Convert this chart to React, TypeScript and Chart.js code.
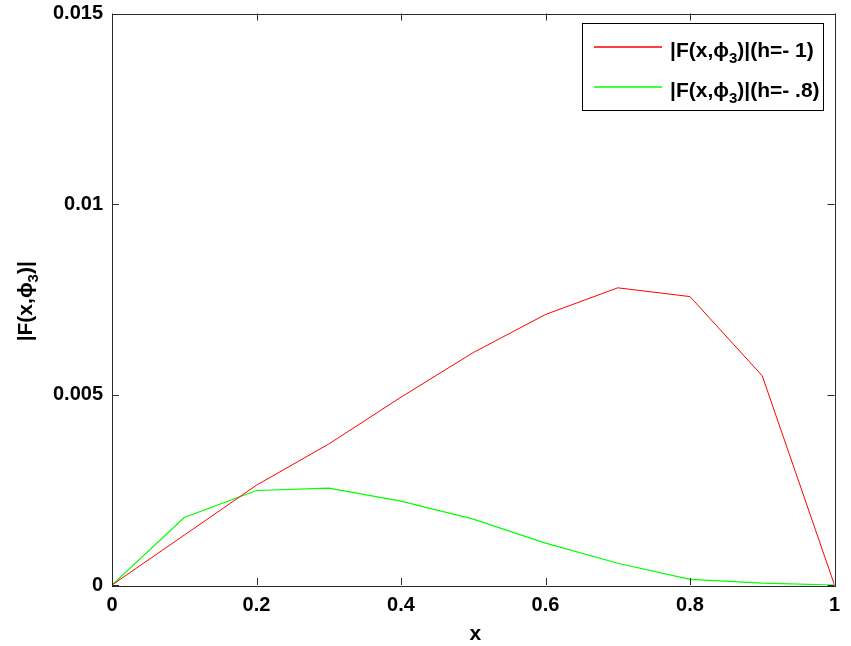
import React, { useEffect, useRef } from "react";
import { Chart, registerables } from "chart.js";

Chart.register(...registerables);

const xValues = [0, 0.1, 0.2, 0.3, 0.4, 0.5, 0.6, 0.7, 0.8, 0.9, 1];
const redValues = [0, 0.00131, 0.00262, 0.0037, 0.00493, 0.0061, 0.0071, 0.0078, 0.00757, 0.00549, 0];
const greenValues = [0, 0.00177, 0.00248, 0.00254, 0.0022, 0.00173, 0.0011, 0.00057, 0.00015, 0.00005, 0];
const xTicks = [0, 0.2, 0.4, 0.6, 0.8, 1];
const yTicks = [0, 0.005, 0.01, 0.015];
const yTickLabels = ["0", "0.005", "0.01", "0.015"];
const legendLabels = [
  { pre: "|F(x,\u03d5", sub: "3", post: ")|(h=- 1)", color: "#ff0000" },
  { pre: "|F(x,\u03d5", sub: "3", post: ")|(h=- .8)", color: "#00ff00" },
];
const xTitle = "x";
const yTitle = { pre: "|F(x,\u03d5", sub: "3", post: ")|" };

const FONT = '"Liberation Sans", Arial, Helvetica, sans-serif';

function drawSubText(ctx: CanvasRenderingContext2D, x: number, y: number, t: { pre: string; sub: string; post: string }, size: number, subSize: number, align: "left" | "center") {
  const main = `bold ${size}px ${FONT}`;
  const small = `bold ${subSize}px ${FONT}`;
  ctx.font = main;
  const w1 = ctx.measureText(t.pre).width;
  const w3 = ctx.measureText(t.post).width;
  ctx.font = small;
  const w2 = ctx.measureText(t.sub).width;
  const total = w1 + w2 + w3;
  const sx = align === "center" ? x - total / 2 : x;
  ctx.textAlign = "left";
  ctx.textBaseline = "alphabetic";
  ctx.font = main;
  ctx.fillText(t.pre, sx, y);
  ctx.font = small;
  ctx.fillText(t.sub, sx + w1, y + 6);
  ctx.font = main;
  ctx.fillText(t.post, sx + w1 + w2, y);
}

const framePlugin = {
  id: "matlabFrame",
  afterDraw(chart: any) {
    const { ctx, chartArea } = chart;
    const xs = chart.scales.x;
    const ys = chart.scales.y;
    const { left, right, top, bottom } = chartArea;
    ctx.save();
    ctx.strokeStyle = "#2b2b2b";
    ctx.lineWidth = 1;
    ctx.strokeRect(Math.round(left) + 0.5, Math.round(top) + 0.5, Math.round(right - left), Math.round(bottom - top));
    const tl = 7;
    ctx.beginPath();
    xTicks.forEach((v) => {
      const px = Math.round(xs.getPixelForValue(v)) + 0.5;
      ctx.moveTo(px, bottom);
      ctx.lineTo(px, bottom - tl);
      ctx.moveTo(px, top);
      ctx.lineTo(px, top + tl);
    });
    yTicks.forEach((v) => {
      const py = Math.round(ys.getPixelForValue(v)) + 0.5;
      ctx.moveTo(left, py);
      ctx.lineTo(left + tl, py);
      ctx.moveTo(right, py);
      ctx.lineTo(right - tl, py);
    });
    ctx.stroke();

    // axis titles
    ctx.fillStyle = "#000";
    ctx.font = `bold 21px ${FONT}`;
    ctx.textAlign = "center";
    ctx.textBaseline = "alphabetic";
    ctx.fillText(xTitle, (left + right) / 2 + 2, 640);
    ctx.save();
    ctx.translate(32, (top + bottom) / 2 + 2);
    ctx.rotate(-Math.PI / 2);
    drawSubText(ctx, 0, 0, yTitle, 21, 15, "center");
    ctx.restore();

    // legend
    const bx = 582.5, by = 23.5, bw = 241, bh = 87;
    ctx.fillStyle = "#fff";
    ctx.fillRect(bx, by, bw, bh);
    ctx.strokeStyle = "#000";
    ctx.strokeRect(bx, by, bw, bh);
    legendLabels.forEach((item, i) => {
      const ly = 47 + i * 40;
      ctx.strokeStyle = item.color;
      ctx.lineWidth = 1.5;
      ctx.beginPath();
      ctx.moveTo(594, ly);
      ctx.lineTo(662, ly);
      ctx.stroke();
      ctx.fillStyle = "#000";
      drawSubText(ctx, 670, ly + 9.5, item, 21, 15, "left");
    });
    ctx.restore();
  },
};

export default function App() {
  const ref = useRef<HTMLCanvasElement>(null);
  useEffect(() => {
    if (!ref.current) return;
    const chart = new Chart(ref.current, {
      type: "line",
      data: {
        datasets: [
          {
            label: "red",
            data: xValues.map((x, i) => ({ x, y: redValues[i] })),
            borderColor: "#ff0000",
            borderWidth: 1,
            pointRadius: 0,
            fill: false,
            tension: 0,
          },
          {
            label: "green",
            data: xValues.map((x, i) => ({ x, y: greenValues[i] })),
            borderColor: "#00ff00",
            borderWidth: 1.2,
            pointRadius: 0,
            fill: false,
            tension: 0,
          },
        ],
      },
      options: {
        responsive: false,
        animation: false,
        layout: { padding: { top: 13.5, right: 16.5, left: 0, bottom: 0 } },
        plugins: { legend: { display: false }, tooltip: { enabled: false } },
        scales: {
          x: {
            type: "linear",
            min: 0,
            max: 1,
            afterBuildTicks: (scale: any) => {
              scale.ticks = xTicks.map((v) => ({ value: v }));
            },
            ticks: {
              callback: (v: any) => String(Number(v)),
              font: { family: FONT, size: 20, weight: "bold" },
              color: "#000",
              padding: 8.5,
              maxRotation: 0,
              autoSkip: false,
            },
            grid: { display: false, drawTicks: false },
            border: { display: false },
            afterFit: (scale: any) => {
              scale.height = 61;
              scale.paddingLeft = 0;
              scale.paddingRight = 0;
            },
          },
          y: {
            type: "linear",
            min: 0,
            max: 0.015,
            afterBuildTicks: (scale: any) => {
              scale.ticks = yTicks.map((v) => ({ value: v }));
            },
            ticks: {
              callback: (v: any) => {
                const idx = yTicks.findIndex((t) => Math.abs(t - Number(v)) < 1e-9);
                return idx >= 0 ? yTickLabels[idx] : "";
              },
              font: { family: FONT, size: 20, weight: "bold" },
              color: "#000",
              padding: 9,
              autoSkip: false,
            },
            grid: { display: false, drawTicks: false },
            border: { display: false },
            afterFit: (scale: any) => {
              scale.width = 112;
              scale.paddingTop = 0;
              scale.paddingBottom = 0;
            },
          },
        },
      },
      plugins: [framePlugin],
    } as any);
    return () => chart.destroy();
  }, []);
  return (
    <div style={{ position: "fixed", left: 0, top: 0, width: 851, height: 646, background: "#fff" }}>
      <canvas ref={ref} width={851} height={646} />
    </div>
  );
}
